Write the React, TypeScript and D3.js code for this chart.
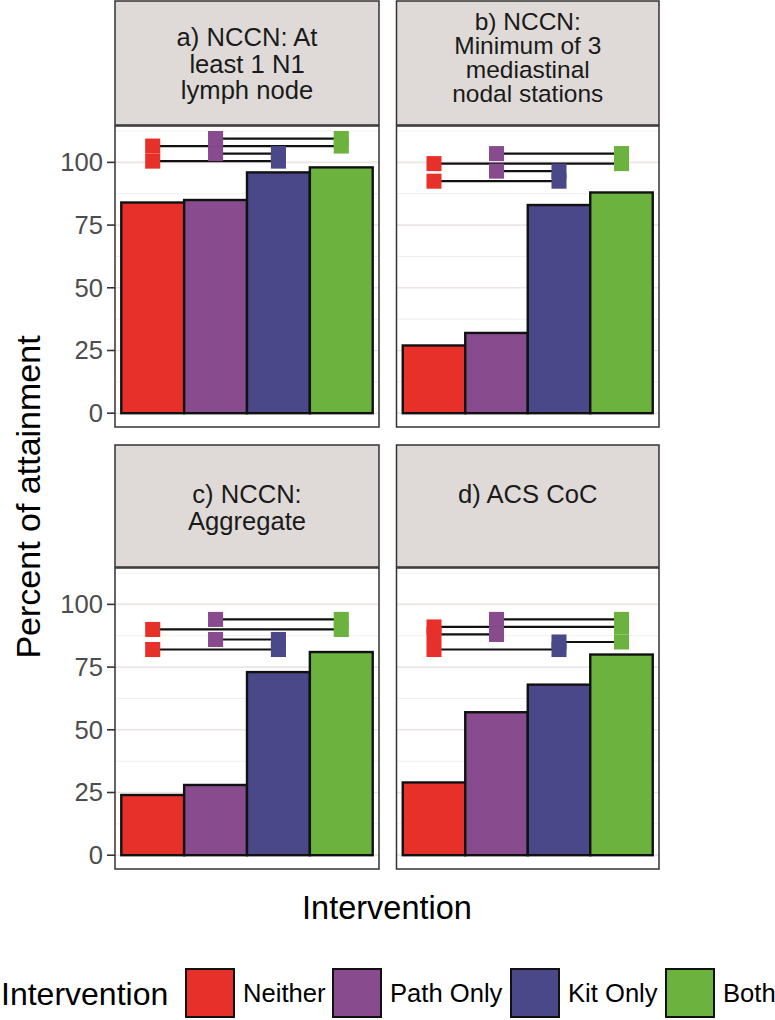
import React from "react";
import * as d3 from "d3";

const categories = ["Neither", "Path Only", "Kit Only", "Both"];
const catColors = ["#E8302A", "#874B8E", "#4A4889", "#6CB23F"];

const panelLabels = [
  ["a) NCCN: At", "least 1 N1", "lymph node"],
  ["b) NCCN:", "Minimum of 3", "mediastinal", "nodal stations"],
  ["c) NCCN:", "Aggregate"],
  ["d) ACS CoC"],
];

const valuesA = [84, 85, 96, 98];
const valuesB = [27, 32, 83, 88];
const valuesC = [24, 28, 73, 81];
const valuesD = [29, 57, 68, 80];

const sigA: [string, string, number][] = [
  ["Path Only", "Both", 109.5],
  ["Neither", "Both", 106.5],
  ["Path Only", "Kit Only", 103.5],
  ["Neither", "Kit Only", 100.5],
];
const sigB: [string, string, number][] = [
  ["Path Only", "Both", 103.5],
  ["Neither", "Both", 99.5],
  ["Path Only", "Kit Only", 96.5],
  ["Neither", "Kit Only", 92.5],
];
const sigC: [string, string, number][] = [
  ["Path Only", "Both", 94],
  ["Neither", "Both", 90],
  ["Path Only", "Kit Only", 86],
  ["Neither", "Kit Only", 82],
];
const sigD: [string, string, number][] = [
  ["Path Only", "Both", 94],
  ["Neither", "Both", 91],
  ["Neither", "Path Only", 88],
  ["Kit Only", "Both", 85],
  ["Neither", "Kit Only", 82],
];

const yTicks = [0, 25, 50, 75, 100];
const yMinor = [12.5, 37.5, 62.5, 87.5, 112.5];

const FONT = "'Liberation Sans', Arial, Helvetica, sans-serif";

const allValues = [valuesA, valuesB, valuesC, valuesD];
const allSig = [sigA, sigB, sigC, sigD];

const colX = [
  [115, 379],
  [396.5, 659],
];
const rowStrip = [
  [1, 125],
  [445, 567],
];
const rowPanel = [
  [126, 427],
  [568, 869],
];
const stripBaselines = [
  [46, 72.5, 99],
  [30, 54, 77.5, 101.5],
  [502.5, 530],
  [502.5],
];

function Panel({ idx }: { idx: number }) {
  const col = idx % 2;
  const row = Math.floor(idx / 2);
  const [x0, x1] = colX[col];
  const [py0, py1] = rowPanel[row];
  const [sy0, sy1] = rowStrip[row];
  const x = d3
    .scaleBand<string>()
    .domain(categories)
    .range([x0, x1])
    .paddingInner(0)
    .paddingOuter(0.1);
  const y = d3.scaleLinear().domain([-5.5, 114.5]).range([py1, py0]);
  const vals = allValues[idx];
  const sig = allSig[idx];
  const bw = x.bandwidth();
  const rectW = bw * 0.24;
  const rectH = 3;
  const stripFont = idx === 1 ? 24.5 : 25.6;
  return (
    <g>
      <rect
        x={x0}
        y={sy0}
        width={x1 - x0}
        height={sy1 - sy0}
        fill="#DFDAD7"
        stroke="#333333"
        strokeWidth={1.5}
      />
      {panelLabels[idx].map((t, i) => (
        <text
          key={i}
          x={(x0 + x1) / 2}
          y={stripBaselines[idx][i]}
          textAnchor="middle"
          fontFamily={FONT}
          fontSize={stripFont}
          fill="#1a1a1a"
        >
          {t}
        </text>
      ))}
      <rect x={x0} y={py0} width={x1 - x0} height={py1 - py0} fill="#ffffff" />
      {yMinor.map((t) => (
        <line
          key={"m" + t}
          x1={x0}
          x2={x1}
          y1={y(t)}
          y2={y(t)}
          stroke="#F3EDED"
          strokeWidth={1}
        />
      ))}
      {yTicks.map((t) => (
        <line
          key={"M" + t}
          x1={x0}
          x2={x1}
          y1={y(t)}
          y2={y(t)}
          stroke="#EDE4E4"
          strokeWidth={1.6}
        />
      ))}
      {categories.map((c, i) => (
        <rect
          key={c}
          x={x(c)!}
          y={y(vals[i])}
          width={bw}
          height={y(0) - y(vals[i])}
          fill={catColors[i]}
          stroke="#111111"
          strokeWidth={2.4}
        />
      ))}
      {sig.map(([a, b, v], i) => (
        <line
          key={"l" + i}
          x1={x(a)! + bw / 2}
          x2={x(b)! + bw / 2}
          y1={y(v)}
          y2={y(v)}
          stroke="#111111"
          strokeWidth={2.2}
        />
      ))}
      {sig.map(([a, b, v], i) =>
        [a, b].map((c) => (
          <rect
            key={"r" + i + c}
            x={x(c)! + bw / 2 - rectW / 2}
            y={y(v + rectH)}
            width={rectW}
            height={y(v - rectH) - y(v + rectH)}
            fill={catColors[categories.indexOf(c)]}
          />
        ))
      )}
      <rect
        x={x0}
        y={py0}
        width={x1 - x0}
        height={py1 - py0}
        fill="none"
        stroke="#333333"
        strokeWidth={1.5}
      />
      {col === 0 &&
        yTicks.map((t) => (
          <g key={"t" + t}>
            <line
              x1={x0 - 8}
              x2={x0}
              y1={y(t)}
              y2={y(t)}
              stroke="#333333"
              strokeWidth={1.6}
            />
            <text
              x={x0 - 12}
              y={y(t) + 9}
              textAnchor="end"
              fontFamily={FONT}
              fontSize={25.6}
              fill="#4d4d4d"
            >
              {t}
            </text>
          </g>
        ))}
    </g>
  );
}

const legendKeyX = [186, 333, 511, 666];

export default function App() {
  return (
    <div style={{ position: "absolute", left: 0, top: 0 }}>
      <svg width={775} height={1020} style={{ display: "block" }}>
        <rect x={0} y={0} width={775} height={1020} fill="#ffffff" />
        {[0, 1, 2, 3].map((i) => (
          <Panel key={i} idx={i} />
        ))}
        <text
          transform="translate(40,497) rotate(-90)"
          textAnchor="middle"
          fontFamily={FONT}
          fontSize={34}
          fill="#000000"
        >
          Percent of attainment
        </text>
        <text
          x={387}
          y={919}
          textAnchor="middle"
          fontFamily={FONT}
          fontSize={32.5}
          fill="#000000"
        >
          Intervention
        </text>
        <text x={1} y={1005} fontFamily={FONT} fontSize={32} fill="#000000">
          Intervention
        </text>
        {categories.map((c, i) => (
          <g key={c}>
            <rect
              x={legendKeyX[i]}
              y={969}
              width={48}
              height={48}
              fill={catColors[i]}
              stroke="#111111"
              strokeWidth={2}
            />
            <text
              x={legendKeyX[i] + 57}
              y={1002}
              fontFamily={FONT}
              fontSize={25.6}
              fill="#000000"
            >
              {c}
            </text>
          </g>
        ))}
      </svg>
    </div>
  );
}
